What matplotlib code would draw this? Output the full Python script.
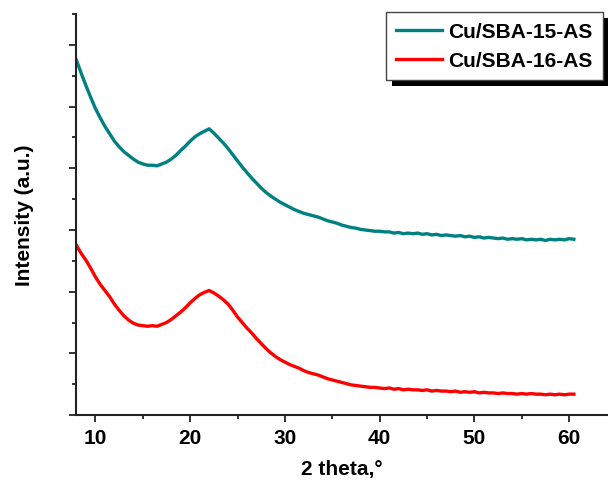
import numpy as np
import matplotlib
matplotlib.use('Agg')
import matplotlib.pyplot as plt
from matplotlib.patches import Rectangle
from matplotlib.transforms import IdentityTransform
from matplotlib.ticker import MultipleLocator

plt.rcParams['font.family'] = ['Liberation Sans', 'DejaVu Sans']
plt.rcParams['font.weight'] = 'bold'

# XRD patterns, 2 theta in degrees (0.5 deg sampling), intensity in arbitrary units
two_theta = np.arange(8.0, 60.51, 0.5)

sba15 = [5.75, 5.54, 5.34, 5.15, 4.97, 4.82, 4.68, 4.56, 4.44, 4.35,
         4.27, 4.21, 4.15, 4.10, 4.07, 4.05, 4.05, 4.04, 4.07, 4.10,
         4.15, 4.21, 4.29, 4.36, 4.44, 4.51, 4.56, 4.60, 4.64, 4.57,
         4.49, 4.41, 4.32, 4.22, 4.12, 4.02, 3.93, 3.84, 3.76, 3.68,
         3.61, 3.55, 3.50, 3.45, 3.41, 3.37, 3.33, 3.30, 3.27, 3.25,
         3.23, 3.21, 3.18, 3.15, 3.13, 3.11, 3.08, 3.06, 3.04, 3.03,
         3.01, 3.00, 2.99, 2.98, 2.98, 2.97, 2.97, 2.95, 2.96, 2.94,
         2.95, 2.94, 2.95, 2.93, 2.94, 2.92, 2.93, 2.91, 2.92, 2.91,
         2.90, 2.91, 2.89, 2.90, 2.88, 2.89, 2.87, 2.88, 2.87, 2.86,
         2.87, 2.85, 2.86, 2.85, 2.86, 2.84, 2.85, 2.84, 2.85, 2.83,
         2.85, 2.84, 2.85, 2.84, 2.86, 2.85]

sba16 = [2.75, 2.62, 2.51, 2.38, 2.24, 2.12, 2.02, 1.92, 1.80, 1.70,
         1.61, 1.54, 1.49, 1.46, 1.45, 1.44, 1.45, 1.44, 1.47, 1.50,
         1.55, 1.61, 1.67, 1.74, 1.82, 1.89, 1.95, 1.99, 2.02, 1.98,
         1.93, 1.87, 1.80, 1.70, 1.59, 1.50, 1.41, 1.33, 1.24, 1.16,
         1.08, 1.01, 0.95, 0.90, 0.86, 0.82, 0.79, 0.76, 0.72, 0.69,
         0.67, 0.65, 0.62, 0.59, 0.57, 0.55, 0.53, 0.51, 0.49, 0.48,
         0.47, 0.46, 0.45, 0.45, 0.44, 0.43, 0.44, 0.42, 0.43, 0.41,
         0.42, 0.41, 0.41, 0.40, 0.41, 0.39, 0.40, 0.39, 0.39, 0.38,
         0.39, 0.37, 0.38, 0.37, 0.38, 0.36, 0.37, 0.36, 0.36, 0.35,
         0.36, 0.35, 0.35, 0.34, 0.35, 0.34, 0.35, 0.34, 0.34, 0.33,
         0.34, 0.33, 0.34, 0.33, 0.34, 0.34]

fig = plt.figure(figsize=(6.08, 4.85), dpi=100)
ax = fig.add_axes([0.125, 0.142, 0.875, 0.827])

ax.plot(two_theta, sba15, color='#008080', lw=2.4, label='Cu/SBA-15-AS')
ax.plot(two_theta, sba16, color='#ff0000', lw=2.4, label='Cu/SBA-16-AS')

ax.set_xlim(7.95, 64.1)
ax.set_ylim(0, 6.5)
ax.xaxis.set_major_locator(MultipleLocator(10))
ax.xaxis.set_minor_locator(MultipleLocator(5))
ax.yaxis.set_major_locator(MultipleLocator(1))
ax.yaxis.set_minor_locator(MultipleLocator(0.5))
ax.set_yticklabels([])

for side in ['top', 'right']:
    ax.spines[side].set_visible(False)
for side in ['left', 'bottom']:
    ax.spines[side].set_linewidth(1.5)
    ax.spines[side].set_color('#222222')

ax.tick_params(which='major', direction='out', length=5, width=1.3,
               color='#222222', labelsize=15, pad=4)
ax.tick_params(which='minor', direction='out', length=3, width=1.3,
               color='#222222')
for lbl in ax.get_xticklabels():
    lbl.set_fontweight('bold')

ax.set_xlabel('2 theta,\u00b0', fontsize=15, fontweight='bold', labelpad=9)
ax.set_ylabel('Intensity (a.u.)', fontsize=15, fontweight='bold', labelpad=21)

leg = ax.legend(loc='upper right', bbox_to_anchor=(0.991, 1.005),
                borderaxespad=0, fancybox=False, framealpha=1,
                edgecolor='#444444', fontsize=15, handlelength=2.2,
                handletextpad=0.3, borderpad=0.5, labelspacing=0.45,
                handleheight=0.7)
leg.get_frame().set_linewidth(1.0)
leg.set_zorder(6)

# solid black drop shadow behind the legend box
fig.canvas.draw()
bb = leg.get_window_extent()
shadow = Rectangle((bb.x0 + 6, bb.y0 - 6), bb.width, bb.height,
                   transform=IdentityTransform(), facecolor='black',
                   edgecolor='none', zorder=5.5, clip_on=False)
ax.add_patch(shadow)

fig.savefig('out.png', dpi=100)
